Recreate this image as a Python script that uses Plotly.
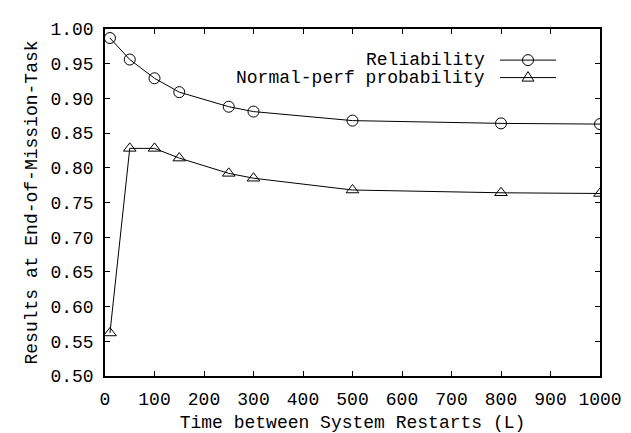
import plotly.graph_objects as go

# Data
restart_time = [10, 50, 100, 150, 250, 300, 500, 800, 1000]
reliability = [0.987, 0.956, 0.929, 0.909, 0.888, 0.881, 0.868, 0.864, 0.863]
normal_perf = [0.562, 0.828, 0.828, 0.814, 0.792, 0.785, 0.768, 0.764, 0.763]
series_names = ["Reliability", "Normal-perf probability"]
x_ticks = [0, 100, 200, 300, 400, 500, 600, 700, 800, 900, 1000]
y_ticks = [0.50, 0.55, 0.60, 0.65, 0.70, 0.75, 0.80, 0.85, 0.90, 0.95, 1.00]

FONT = "Liberation Mono, Courier New, monospace"

fig = go.Figure()
fig.add_trace(go.Scatter(
    x=restart_time, y=reliability, mode="lines+markers", name=series_names[0],
    line=dict(color="black", width=1),
    marker=dict(symbol="circle-open", size=11, color="black", line=dict(width=1)),
    showlegend=False,
))
fig.add_trace(go.Scatter(
    x=restart_time, y=normal_perf, mode="lines+markers", name=series_names[1],
    line=dict(color="black", width=1),
    marker=dict(symbol="triangle-up-open", size=11, color="black", line=dict(width=1)),
    showlegend=False,
))

# gnuplot-style legend: right-aligned text, sample line with marker to the right
W, H = 495.0, 357.0
def px(x):
    return (x - 97) / W
def py(y):
    return (370 - y) / H

rows = [45, 63]
annotations = []
shapes = []
for i, (name, yy) in enumerate(zip(series_names, rows)):
    annotations.append(dict(
        x=px(479), y=py(yy), xref="paper", yref="paper", text=name,
        showarrow=False, xanchor="right", yanchor="middle",
        font=dict(family=FONT, size=18, color="black"),
    ))
    shapes.append(dict(
        type="line", xref="paper", yref="paper",
        x0=px(492), x1=px(548), y0=py(yy), y1=py(yy),
        line=dict(color="black", width=1),
    ))
    if i == 0:
        shapes.append(dict(
            type="circle", xref="paper", yref="paper",
            xsizemode="pixel", ysizemode="pixel",
            xanchor=px(520), yanchor=py(yy),
            x0=-5.5, x1=5.5, y0=-5.5, y1=5.5,
            line=dict(color="black", width=1), fillcolor="rgba(0,0,0,0)",
        ))
    else:
        shapes.append(dict(
            type="path", xref="paper", yref="paper",
            xsizemode="pixel", ysizemode="pixel",
            xanchor=px(520), yanchor=py(yy),
            path="M -6,-3.5 L 6,-3.5 L 0,6 Z",
            line=dict(color="black", width=1), fillcolor="rgba(0,0,0,0)",
        ))

axis_common = dict(
    showline=True, linecolor="black", linewidth=1.5, mirror="ticks",
    ticks="inside", ticklen=5, tickwidth=1, tickcolor="black",
    showgrid=False, zeroline=False,
    tickfont=dict(family=FONT, size=18, color="black"),
)

fig.update_layout(
    width=631, height=433,
    margin=dict(l=97, r=39, t=13, b=63),
    paper_bgcolor="white", plot_bgcolor="white",
    font=dict(family=FONT, size=18, color="black"),
    xaxis=dict(
        range=[0, 1000], tickvals=x_ticks, ticktext=[str(v) for v in x_ticks],
        title=dict(text="Time between System Restarts (L)", standoff=6,
                   font=dict(family=FONT, size=18, color="black")),
        ticklabelstandoff=6,
        **axis_common,
    ),
    yaxis=dict(
        range=[0.5, 1.0], tickvals=y_ticks, ticktext=[f"{v:.2f}" for v in y_ticks],
        title=dict(text="Results at End-of-Mission-Task", standoff=8,
                   font=dict(family=FONT, size=18, color="black")),
        ticklabelstandoff=6,
        **axis_common,
    ),
    annotations=annotations,
    shapes=shapes,
    showlegend=False,
)

fig.write_html("out.html")
